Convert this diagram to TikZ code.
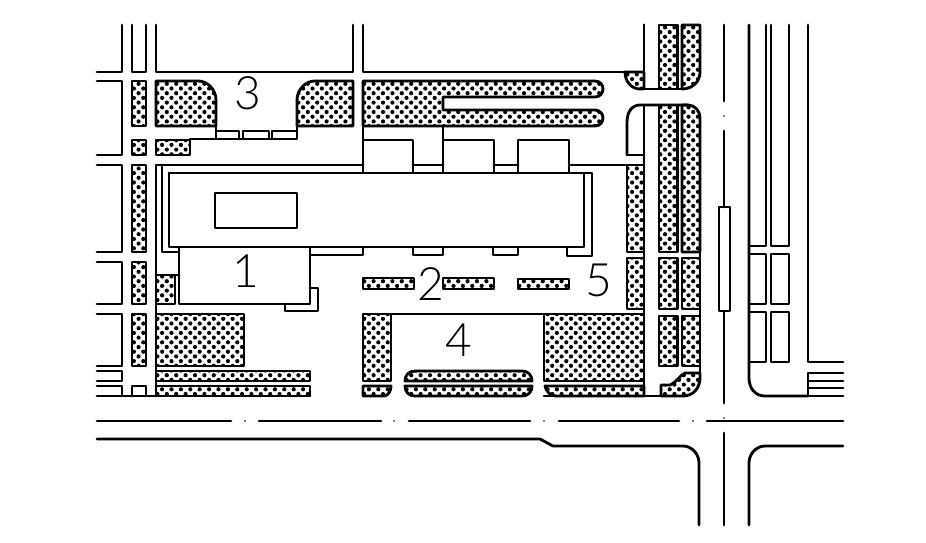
\documentclass[tikz,border=0pt]{standalone}
\usepackage{fontspec}
\setmainfont{Liberation Sans}
\newfontfamily\lblfont{Lato Light}
\usetikzlibrary{patterns}
\pgfdeclarepatternformonly{sitehatch}{\pgfqpoint{-1pt}{-1pt}}{\pgfqpoint{10.4pt}{10.4pt}}{\pgfqpoint{9.4pt}{9.4pt}}{
  \pgfpathcircle{\pgfqpoint{2.3pt}{2.3pt}}{2.1pt}
  \pgfpathcircle{\pgfqpoint{7pt}{7pt}}{2.1pt}
  \pgfusepath{fill}
}
\tikzset{
  ln/.style={line width=2.85pt,line cap=round,line join=round,black},
  hatch/.style={ln,draw=black,pattern=sitehatch,pattern color=black},
  lbl/.style={font=\lblfont\fontsize{46}{46}\selectfont,inner sep=0pt,text=black}
}
\begin{document}
\begin{tikzpicture}[x=1pt,y=-1pt]
\useasboundingbox (0,0) rectangle (926,542);
% --- hatched blocks, left
\foreach \ya/\yb in {81/126,140/155,165/252,262/304,314/366}
  \draw[hatch] (132,\ya) rectangle (146,\yb);
\draw[hatch] (156,81) -- (198,81) .. controls (208,81) and (216,90) .. (216,100) -- (216,126) -- (156,126) -- cycle;
\draw[hatch] (353,81) -- (315,81) .. controls (305,81) and (297,90) .. (297,100) -- (297,126) -- (353,126) -- cycle;
\draw[hatch] (156,140) rectangle (190,155);
\draw[hatch] (156,275) rectangle (175,304);
\draw[hatch] (156,314) rectangle (244,366);
\draw[hatch] (156,371) rectangle (310,381);
\draw[hatch] (156,386) rectangle (310,396);
% --- top long band
\draw[hatch] (363,81) -- (595,81) .. controls (600,81) and (603,85) .. (603,89) .. controls (603,93) and (600,97) .. (595,97) -- (443,97) -- (443,110) -- (595,110) .. controls (600,110) and (603,114) .. (603,118) .. controls (603,122) and (600,126) .. (595,126) -- (363,126) -- cycle;
% --- centre bars
\draw[hatch] (363,278) rectangle (414,289);
\draw[hatch] (443,278) rectangle (494,289);
\draw[hatch] (518,279) rectangle (569,289);
% --- lower hatched blocks
\draw[hatch] (363,314) rectangle (391,381);
\draw[hatch] (363,386) -- (391,386) .. controls (391,391) and (388,396) .. (384,396) -- (363,396) -- cycle;
\draw[hatch] (405,381) .. controls (405,375) and (409,371) .. (415,371) -- (522,371) .. controls (528,371) and (532,375) .. (532,381) -- cycle;
\draw[hatch] (405,386) .. controls (405,392) and (409,396) .. (415,396) -- (522,396) .. controls (528,396) and (532,392) .. (532,386) -- cycle;
\draw[hatch] (544,314) rectangle (644,381);
\draw[hatch] (545,386) .. controls (546,391) and (550,396) .. (556,396) -- (644,396) -- (644,386) -- cycle;
% --- right hatched columns
\draw[hatch] (625,72) -- (644,72) -- (644,89) -- (640,89) .. controls (632,89) and (625,82) .. (625,72) -- cycle;
\draw[hatch] (659,25) -- (677.5,25) -- (677.5,89) -- (659,89) -- cycle;
\draw[hatch] (682,25) -- (700,25) -- (700,72) .. controls (700,82) and (692,89) .. (682,89) -- cycle;
\draw[hatch] (659,105) -- (677.5,105) -- (677.5,252) -- (659,252) -- cycle;
\draw[hatch] (682,105) -- (688,105) .. controls (695,105) and (700,111) .. (700,118) -- (700,252) -- (682,252) -- cycle;
\foreach \ya/\yb in {258/309,316/366}{
  \draw[hatch] (659,\ya) rectangle (677.5,\yb);
  \draw[hatch] (682,\ya) rectangle (700,\yb);
}
\draw[hatch] (627,165) rectangle (644,252);
\draw[hatch] (627,258) rectangle (644,309);
\draw[hatch] (661,385) -- (670,385) .. controls (676,383) and (680,375) .. (685,373) -- (700,373) -- (700,378) .. controls (700,388) and (693,396) .. (683,396) -- (661,396) -- cycle;
% --- left road edges
\draw[ln] (122,25) -- (122,72) -- (97,72);
\draw[ln] (132,25) -- (132,72) -- (146,72) -- (146,25);
\draw[ln] (156,25) -- (156,72) -- (353,72) -- (353,25);
\draw[ln] (363,25) -- (363,72) -- (644,72) -- (644,25);
\draw[ln] (97,81) -- (122,81) -- (122,155) -- (97,155);
\draw[ln] (97,165) -- (122,165) -- (122,252) -- (97,252);
\draw[ln] (97,262) -- (122,262) -- (122,304) -- (97,304);
\draw[ln] (97,314) -- (122,314) -- (122,366) -- (97,366);
\draw[ln] (97,371) -- (122,371) -- (122,381) -- (97,381);
\draw[ln] (97,386) -- (122,386) -- (122,396);
\draw[ln] (132,396) -- (132,386) -- (146,386) -- (146,396);
\draw[ln] (97,396) -- (310,396);
% --- plaza with three stalls
\draw[ln] (216,126) -- (216,139) -- (190,139);
\draw[ln] (216,139) -- (297,139) -- (297,126);
\draw[ln] (216,131) -- (239,131) -- (239,139);
\draw[ln] (243,139) -- (243,131) -- (269,131) -- (269,139);
\draw[ln] (272,139) -- (272,131) -- (297,131);
% --- main building and its outlines
\draw[ln] (156,396) -- (156,165) -- (363,165);
\draw[ln] (162,165) -- (162,252) -- (179,252);
\draw[ln] (169,173) -- (592,173) -- (592,256) -- (567,256) -- (567,247);
\draw[ln] (584,173) -- (584,247) -- (169,247) -- (169,173);
\draw[ln] (215,193) rectangle (297,228);
% --- annex 1
\draw[ln] (179,247) -- (179,304) -- (310,304) -- (310,247);
\draw[ln] (156,275) -- (179,275);
\draw[ln] (310,288) -- (318,288) -- (318,311) -- (285,311) -- (285,304);
% --- stubs below the building
\draw[ln] (310,255) -- (363,255) -- (363,247);
\draw[ln] (413,247) -- (413,255) -- (443,255) -- (443,247);
\draw[ln] (493,247) -- (493,255) -- (518,255) -- (518,247);
% --- upper wings
\draw[ln] (363,126) -- (363,173);
\draw[ln] (443,126) -- (443,173);
\draw[ln] (363,140) -- (413,140) -- (413,173);
\draw[ln] (443,140) -- (494,140) -- (494,173);
\draw[ln] (518,173) -- (518,140) -- (569,140) -- (569,173);
\draw[ln] (413,165) -- (443,165);
\draw[ln] (494,165) -- (518,165);
\draw[ln] (569,165) -- (644,165);
% --- lower courtyard lines
\draw[ln] (391,314) -- (544,314);
% --- east edge of site
\draw[ln] (644,25) -- (644,89) -- (682,89);
\draw[ln] (627,155) -- (627,122) .. controls (627,112) and (632,105) .. (640,105) -- (688,105);
\draw[ln] (627,155) -- (644,155);
\draw[ln] (644,105) -- (644,396);
\draw[ln] (544,396) -- (683,396);
\draw[ln] (700,252) -- (700,378);
% --- main road, south
\draw[ln] (97,421) -- (231,421);
\draw[ln] (259,421) -- (381,421);
\draw[ln] (409,421) -- (530,421);
\draw[ln] (559,421) -- (679,421);
\draw[ln] (707,421) -- (843,421);
\fill (245,421) circle (0.9pt) (394,421) circle (0.9pt) (544,421) circle (0.9pt) (693,421) circle (0.9pt) (724,418) circle (0.9pt) (724,116) circle (0.9pt);
\draw[ln] (97,439) -- (540,439) -- (553,446) -- (683,446) .. controls (692,446) and (699,454) .. (699,463) -- (699,525);
\draw[ln] (843,446) -- (765,446) .. controls (756,446) and (749,454) .. (749,463) -- (749,525);
% --- east road centre line and island
\draw[ln] (724,25) -- (724,101);
\draw[ln] (724,131) -- (724,207);
\draw[ln] (719,207) rectangle (730,311);
\draw[ln] (724,311) -- (724,403);
\draw[ln] (724,433) -- (724,525);
% --- east side
\draw[ln] (749,25) -- (749,378) .. controls (749,388) and (755,396) .. (765,396) -- (808,396);
\draw[ln] (766,25) -- (766,246) -- (749,246);
\draw[ln] (771,25) -- (771,246) -- (789,246) -- (789,25);
\draw[ln] (749,254) -- (766,254) -- (766,304) -- (749,304);
\draw[ln] (771,254) rectangle (789,304);
\draw[ln] (749,312) -- (766,312) -- (766,362) -- (749,362);
\draw[ln] (771,312) rectangle (789,362);
\draw[ln] (808,25) -- (808,362) -- (843,362);
\draw[ln] (808,396) -- (808,373) -- (843,373);
\draw[ln] (808,381) -- (843,381);
\draw[ln] (808,388) -- (843,388);
\draw[ln] (808,396) -- (843,396);
% --- labels
\node[lbl] (n1) at (246,271) {1};
\node[lbl] (n2) at (431,284) {2};
\node[lbl] (n3) at (248,93) {3};
\node[lbl] (n4) at (459,340) {4};
\node[lbl] (n5) at (599,280) {5};
\end{tikzpicture}
\end{document}
